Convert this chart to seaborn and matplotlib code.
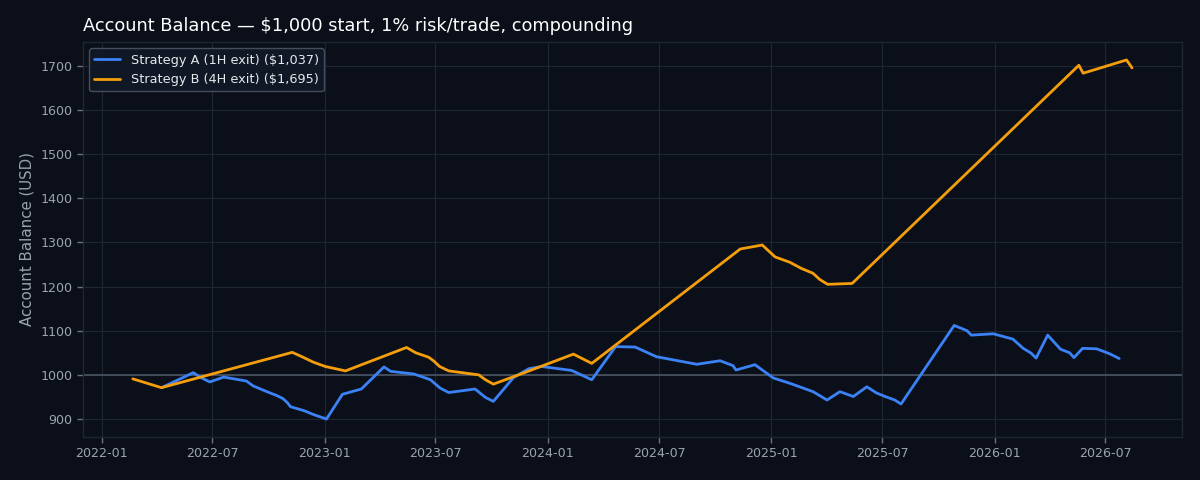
import matplotlib
matplotlib.use("Agg")
import matplotlib.pyplot as plt
import matplotlib.dates as mdates
import seaborn as sns
import pandas as pd

# ---- data ----
a_dates = ["2022-04-09", "2022-05-31", "2022-06-11", "2022-06-27", "2022-07-20", "2022-08-26",
           "2022-09-06", "2022-09-18", "2022-10-02", "2022-10-15", "2022-10-25", "2022-11-01",
           "2022-11-06", "2022-11-28", "2022-12-14", "2023-01-04", "2023-01-30", "2023-03-02",
           "2023-04-08", "2023-04-19", "2023-05-27", "2023-06-23", "2023-07-09", "2023-07-23",
           "2023-09-04", "2023-09-21", "2023-10-04", "2023-11-06", "2023-12-01", "2023-12-22",
           "2024-02-09", "2024-03-13", "2024-04-21", "2024-05-23", "2024-06-27", "2024-09-01",
           "2024-10-09", "2024-10-30", "2024-11-04", "2024-12-05", "2025-01-04", "2025-01-31",
           "2025-02-22", "2025-03-10", "2025-03-21", "2025-04-02", "2025-04-23", "2025-05-15",
           "2025-06-06", "2025-06-22", "2025-07-06", "2025-07-22", "2025-08-01", "2025-10-27",
           "2025-11-17", "2025-11-24", "2025-12-30", "2026-01-31", "2026-02-17", "2026-03-02",
           "2026-03-10", "2026-03-29", "2026-04-19", "2026-05-04", "2026-05-11", "2026-05-25",
           "2026-06-17", "2026-07-08", "2026-07-24"]
a_values = [971, 1005, 995, 984, 995, 986,
            975, 968, 960, 953, 946, 937,
            928, 919, 910, 900, 956, 968,
            1018, 1008, 1002, 989, 970, 960,
            968, 949, 940, 994, 1014, 1019,
            1010, 989, 1064, 1063, 1041, 1024,
            1032, 1021, 1011, 1023, 993, 981,
            970, 962, 953, 943, 962, 951,
            973, 959, 951, 943, 934, 1112,
            1100, 1090, 1093, 1081, 1060, 1049,
            1038, 1090, 1058, 1050, 1039, 1060,
            1059, 1048, 1037]

b_dates = ["2022-02-21", "2022-04-09", "2022-11-09", "2022-11-25", "2022-12-13", "2023-01-02",
           "2023-02-04", "2023-05-15", "2023-05-30", "2023-06-20", "2023-06-28", "2023-07-08",
           "2023-07-23", "2023-09-10", "2023-09-21", "2023-10-04", "2023-11-22", "2024-02-12",
           "2024-03-13", "2024-11-11", "2024-12-17", "2025-01-07", "2025-01-31", "2025-02-19",
           "2025-03-10", "2025-03-21", "2025-04-03", "2025-05-13", "2026-05-19", "2026-05-26",
           "2026-08-05", "2026-08-14"]
b_values = [991, 971, 1051, 1041, 1029, 1019,
            1009, 1062, 1050, 1040, 1032, 1019,
            1009, 1000, 989, 979, 1004, 1047,
            1026, 1285, 1294, 1267, 1255, 1241,
            1230, 1216, 1205, 1207, 1701, 1683,
            1713, 1695]

label_a = "Strategy A (1H exit) ($1,037)"
label_b = "Strategy B (4H exit) ($1,695)"
title = "Account Balance \u2014 $1,000 start, 1% risk/trade, compounding"
ylabel = "Account Balance (USD)"
start_balance = 1000

df = pd.concat([
    pd.DataFrame({"date": pd.to_datetime(a_dates), "balance": a_values, "strategy": label_a}),
    pd.DataFrame({"date": pd.to_datetime(b_dates), "balance": b_values, "strategy": label_b}),
], ignore_index=True)

# ---- style ----
BG = "#0b0f19"
GRID = "#1f2633"
TXT = "#9ca3af"
sns.set_theme(style="dark")
plt.rcParams["font.family"] = ["DejaVu Sans"]

fig, ax = plt.subplots(figsize=(12, 4.8), dpi=100)
fig.patch.set_facecolor(BG)
ax.set_facecolor(BG)
fig.subplots_adjust(left=0.069, right=0.985, top=0.9125, bottom=0.0896)

sns.lineplot(data=df, x="date", y="balance", hue="strategy",
             palette={label_a: "#3b82f6", label_b: "#f59e0b"},
             linewidth=2, ax=ax, estimator=None, sort=True)

ax.axhline(start_balance, color="#4b5563", linewidth=1.2, zorder=1)

ax.grid(True, color=GRID, linewidth=0.9)
ax.set_axisbelow(True)
for s in ax.spines.values():
    s.set_visible(True)
    s.set_color(GRID)
    s.set_linewidth(1)

ax.xaxis.set_major_locator(mdates.MonthLocator(bymonth=[1, 7]))
ax.xaxis.set_major_formatter(mdates.DateFormatter("%Y-%m"))
ax.tick_params(axis="both", colors=TXT, labelsize=9.1, length=4, width=1,
               bottom=True, left=True)
ax.tick_params(axis="both", color="#6b7280")

ax.set_xlabel("")
ax.set_ylabel(ylabel, color=TXT, fontsize=10.8)
ax.set_title(title, color="white", fontsize=12.8, loc="left", pad=8)

leg = ax.legend(loc="upper left", fontsize=9.3, frameon=True, title=None)
leg.get_frame().set_facecolor("#111827")
leg.get_frame().set_edgecolor("#4b5563")
leg.get_frame().set_alpha(0.9)
for t in leg.get_texts():
    t.set_color("#e5e7eb")

fig.savefig("out.png", dpi=100, facecolor=BG)
